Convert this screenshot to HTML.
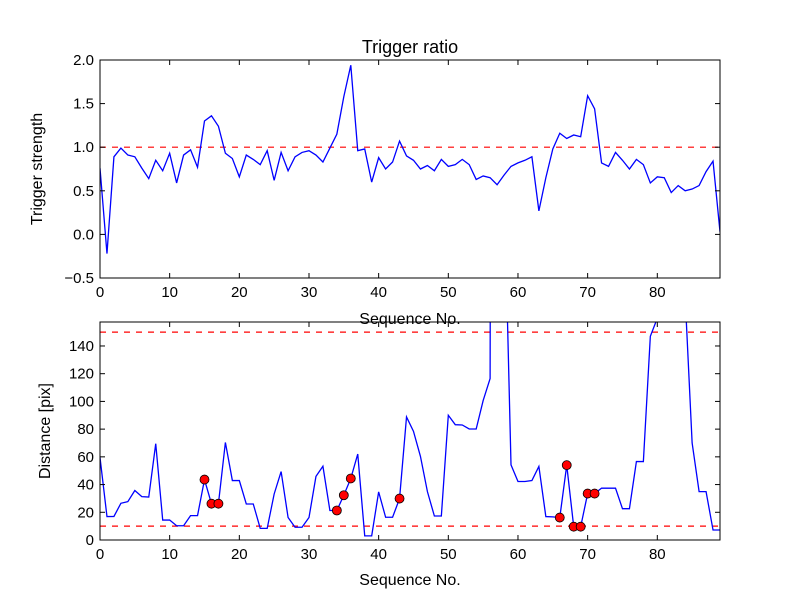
<!DOCTYPE html>
<html><head><meta charset="utf-8"><style>
body{margin:0;background:#fff}
svg{display:block;font-family:"Liberation Sans","DejaVu Sans",sans-serif}
</style></head><body>
<svg id="c" width="800" height="600" viewBox="0 0 800 600">
<rect width="800" height="600" fill="#fff"/>
<defs>
<clipPath id="clipTop"><rect x="100" y="60" width="620" height="218"/></clipPath>
<clipPath id="clipBot"><rect x="100" y="322" width="620" height="218"/></clipPath>
</defs>
<text x="410" y="53" font-size="18" text-anchor="middle">Trigger ratio</text>
<g id="gTop"></g>
<g id="gBot"></g>
</svg>
<script>
const ratioValues=[0.76,-0.22,0.89,0.99,0.91,0.89,0.76,0.64,0.85,0.73,0.93,0.59,0.91,0.97,0.77,1.30,1.36,1.24,0.93,0.87,0.66,0.91,0.86,0.80,0.96,0.62,0.94,0.73,0.89,0.94,0.96,0.91,0.83,0.99,1.15,1.58,1.94,0.96,0.98,0.60,0.88,0.75,0.83,1.07,0.90,0.85,0.75,0.79,0.73,0.86,0.78,0.80,0.86,0.80,0.63,0.67,0.65,0.57,0.68,0.78,0.82,0.85,0.89,0.27,0.65,0.98,1.16,1.10,1.14,1.12,1.59,1.44,0.82,0.78,0.94,0.85,0.75,0.86,0.80,0.59,0.66,0.65,0.48,0.56,0.50,0.52,0.56,0.72,0.84,0.03];
const distValues=[59.6,16.9,17,26.5,27.7,35.7,31.3,31,69.5,14.4,14.4,10.3,10.3,17.6,17.6,43.6,26.2,26.2,70.4,42.9,42.9,26,26,8.4,8.4,33.2,49.4,16.2,9.2,9.2,16.2,45.9,53.2,21.3,21.3,32.3,44.4,62,3,3,34.7,16.4,16.4,29.9,88.8,78.4,60.3,34.9,17.3,17.3,90,83.2,83,80.1,80.1,100.6,116.5,3000,260,54.2,42.2,42.2,42.9,53.1,16.9,16.7,16.2,54,9.6,9.6,33.5,33.5,37.4,37.4,37.4,22.6,22.6,56.6,56.6,147,160,400,400,400,175,70,34.9,34.9,7.2,7.2];
const flaggedIdx=[15,16,17,34,35,36,43,66,67,68,69,70,71];
const xTicks=[0,10,20,30,40,50,60,70,80];
const topYTicks=[-0.5,0.0,0.5,1.0,1.5,2.0];
const botYTicks=[0,20,40,60,80,100,120,140];
const ratioThreshold=[1.0];
const distThresholds=[10,150];

const NS="http://www.w3.org/2000/svg";
function mk(tag,attrs,parent,txt){const e=document.createElementNS(NS,tag);for(const k in attrs)e.setAttribute(k,attrs[k]);if(txt!==undefined)e.textContent=txt;parent.appendChild(e);return e;}
const L=100,R=720;
const xs=v=>L+(v-0)/(89-0)*(R-L);
function fmt(v,dec){const s=v.toFixed(dec);return s.replace('-','\u2212');}

function axes(g,top,bot,ymin,ymax,yTicks,dec,vals,clip,hlines,ylabel,ylx,xlabelY,pre){
  const ys=v=>bot-(v-ymin)/(ymax-ymin)*(bot-top);
  // threshold lines
  hlines.forEach(h=>{
    const ln=mk('line',{x1:L,x2:R,y1:ys(h),y2:ys(h),stroke:'#ff0000','stroke-width':1.2,'stroke-dasharray':'6,6'},g);
    
    
  });
  const pts=vals.map((v,i)=>xs(i).toFixed(2)+','+ys(v).toFixed(2)).join(' ');
  const pl=mk('polyline',{points:pts,fill:'none',stroke:'#0000ff','stroke-width':1.3,'clip-path':'url(#'+clip+')'},g);
  
  
  // frame
  const fr=mk('rect',{x:L,y:top,width:R-L,height:bot-top,fill:'none',stroke:'#000','stroke-width':1},g);
  
  
  xTicks.forEach(t=>{
    const x=xs(t);
    mk('line',{x1:x,x2:x,y1:bot,y2:bot-5,stroke:'#000'},g);
    mk('line',{x1:x,x2:x,y1:top,y2:top+5,stroke:'#000'},g);
    const tl=mk('text',{x:x,y:bot+19,'font-size':15,'text-anchor':'middle'},g,String(t));
    
    
  });
  yTicks.forEach(t=>{
    const y=ys(t);
    mk('line',{x1:L,x2:L+5,y1:y,y2:y,stroke:'#000'},g);
    mk('line',{x1:R,x2:R-5,y1:y,y2:y,stroke:'#000'},g);
    const tl=mk('text',{x:L-6,y:y+5,'font-size':15,'text-anchor':'end'},g,fmt(t,dec));
    
    
  });
  const yl=mk('text',{x:ylx,y:(top+bot)/2,'font-size':16,'text-anchor':'middle',transform:'rotate(-90 '+ylx+' '+((top+bot)/2)+')'},g,ylabel);
  
  
  return ys;
}
const gTop=document.getElementById('gTop'),gBot=document.getElementById('gBot');
const xlT=mk('text',{x:410,y:324,'font-size':16,'text-anchor':'middle'},gTop,'Sequence No.');


axes(gTop,60,278,-0.5,2.0,topYTicks,1,ratioValues,'clipTop',ratioThreshold,'Trigger strength',42,0,'top');
// white band so bottom axes covers label like reference
const ysB=axes(gBot,322,540,0,157.3,botYTicks,0,distValues,'clipBot',distThresholds,'Distance [pix]',50,0,'bottom');
const xlB=mk('text',{x:410,y:585,'font-size':16,'text-anchor':'middle'},gBot,'Sequence No.');


flaggedIdx.forEach(i=>{
  const c=mk('circle',{cx:xs(i),cy:ysB(distValues[i]),r:4.5,fill:'#ff0000',stroke:'#000','stroke-width':0.8},gBot);
  
  
});
</script>
</body></html>
